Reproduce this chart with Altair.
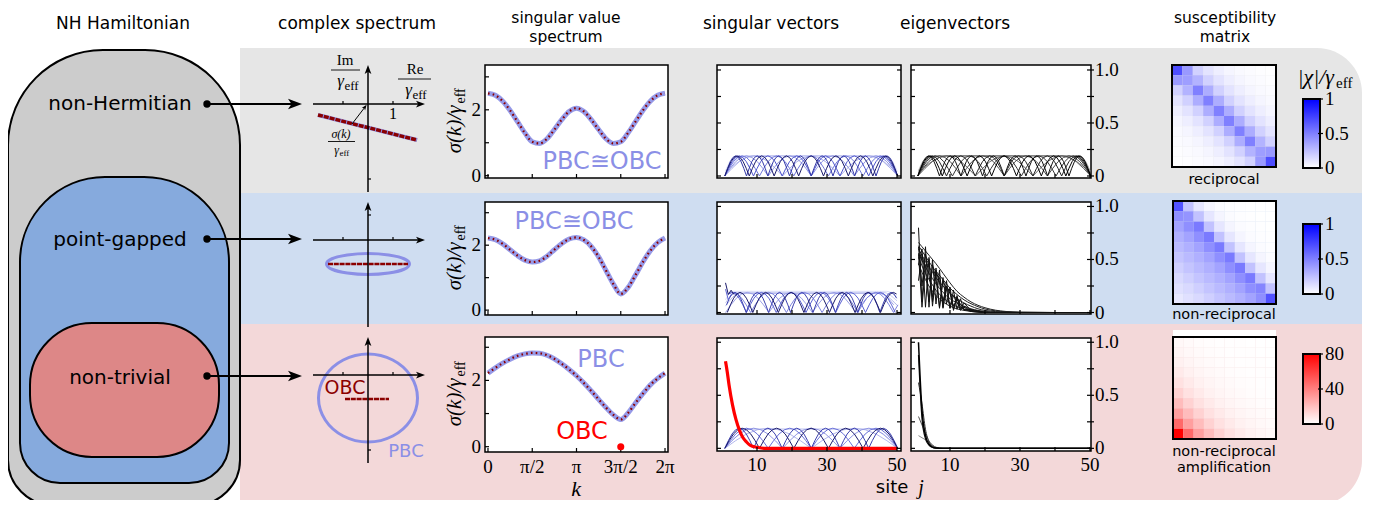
import altair as alt
import pandas as pd

PI = 3.141592653589793
OFF = 8            # page margin of the html page
W, H = 1364, 492   # whole figure canvas

# =============================== DATA ===============================
# singular value spectra sigma(k)/gamma_eff at k = i*pi/12 (i = 0..24)
K_STEPS = 24
SIGMA_NONHERM = [2.50, 2.44, 2.26, 1.98, 1.64, 1.30, 1.03, 0.98, 1.12, 1.40, 1.70, 1.95, 2.05,
                 1.95, 1.70, 1.40, 1.12, 0.98, 1.03, 1.30, 1.64, 1.98, 2.26, 2.44, 2.50]
SIGMA_POINTGAP = [2.22, 2.17, 2.04, 1.86, 1.68, 1.54, 1.48, 1.52, 1.66, 1.86, 2.05, 2.19, 2.24,
                  2.16, 1.96, 1.64, 1.22, 0.80, 0.50, 0.70, 1.08, 1.48, 1.83, 2.08, 2.22]
SIGMA_NONTRIV = [2.22, 2.38, 2.52, 2.64, 2.74, 2.80, 2.83, 2.82, 2.76, 2.65, 2.50, 2.33, 2.14,
                 1.92, 1.68, 1.43, 1.18, 0.96, 0.82, 1.02, 1.32, 1.60, 1.86, 2.06, 2.22]
OBC_ZERO_K = [3 * PI / 2]
OBC_ZERO_SIGMA = [0.0]
K_TICKS = [0, PI / 2, PI, 3 * PI / 2, 2 * PI]
K_TICK_LABELS = ["0", "π/2", "π", "3π/2", "2π"]
SIG_TICKS = [0, 1, 2, 3]
SIG_LABEL_VALUES = [0, 2]
SIG_LABELS = ["0", "2"]

# complex spectra (Re, Im in units of gamma_eff)
CPX_TOP_RE = [-2.0, 1.96]
CPX_TOP_IM = [-0.44, -1.44]
ELL_RE = [1.66, 1.44, 0.83, 0, -0.83, -1.44, -1.66, -1.44, -0.83, 0, 0.83, 1.44]
ELL_IM = [-0.96, -0.75, -0.60, -0.54, -0.60, -0.75, -0.96, -1.17, -1.32, -1.38, -1.32, -1.17]
MID_OBC_RE = [-1.6, 1.6]
MID_OBC_IM = [-0.96, -0.96]
CIRC_RE = [1.98, 1.71, 0.99, 0, -0.99, -1.71, -1.98, -1.71, -0.99, 0, 0.99, 1.71]
CIRC_IM = [-0.92, -0.04, 0.60, 0.84, 0.60, -0.04, -0.92, -1.80, -2.44, -2.68, -2.44, -1.80]
BOT_OBC_RE = [-0.92, 0.84]
BOT_OBC_IM = [-0.96, -0.96]
CPX_RE_TICKS = [-1, 1]
CPX_IM_TICK = [-3, 1, -3]

# singular vectors / eigenvectors |psi_j|
SITE_TICKS = [10, 20, 30, 40, 50]
SITE_LABEL_VALUES = [10, 30, 50]
PSI_TICKS = [0, 0.25, 0.5, 0.75, 1.0]
PSI_LABEL_VALUES = [1.0, 0.5, 0]
PSI_LABELS = ["1.0", "0.5", "0"]
ARCH_AMP = 0.19
ARCH_PROFILE = [0, 0.38, 0.71, 0.92, 1.0, 0.92, 0.71, 0.38, 0]   # one arch of |psi_j|

TOP_PLATEAU_J = [[1, 2.5, 4, 47, 48.5, 50], [1, 3.5, 6, 45, 47.5, 50], [1, 5, 9, 42, 46, 50]]
TOP_PLATEAU_V = [[0.05, 0.15, 0.19, 0.19, 0.15, 0.05], [0.04, 0.15, 0.19, 0.19, 0.15, 0.04],
                 [0.03, 0.14, 0.19, 0.19, 0.14, 0.03]]
TOP_NODES = [
    [0.8, 17.3, 33.7, 50.2],
    [0.8, 13.2, 25.5, 37.8, 50.2],
    [0.8, 10.7, 20.5, 30.4, 40.3, 50.2],
    [0.8, 9.0, 17.2, 25.5, 33.7, 41.9, 50.2],
    [0.8, 7.0, 13.1, 19.3, 25.5, 31.7, 37.9, 44.0, 50.2],
    [0.8, 7.8, 14.9, 21.9, 29.0, 36.1, 43.1, 50.2],
]
MID_PLATEAU_J = [[1, 3, 47, 50], [1, 4, 46, 50], [1, 5, 45, 50]]
MID_PLATEAU_V = [[0.12, 0.2, 0.2, 0.15], [0.09, 0.19, 0.19, 0.11], [0.06, 0.18, 0.18, 0.07]]
MID_NODES = [
    [1.0, 13.4, 25.8, 38.2, 50.6],
    [-2.0, 8.2, 18.4, 28.6, 38.8, 49.0, 59.2],
    [-1.5, 7.0, 15.5, 24.0, 32.5, 41.0, 49.5],
    [0.5, 6.9, 13.3, 19.6, 26.0, 32.4, 38.8, 45.1, 51.5],
    [1.5, 8.8, 16.1, 23.4, 30.7, 38.0, 45.3, 52.6],
]
MID_SPIKE_J = [[1, 1.8, 2.6, 3.4], [1, 1.8, 2.6]]
MID_SPIKE_V = [[0.28, 0.17, 0.21, 0.17], [0.22, 0.12, 0.17]]
BOT_PLATEAU_J = [[1, 3, 5, 46, 48, 50], [1, 4.5, 8, 43, 46.5, 50]]
BOT_PLATEAU_V = [[0.03, 0.13, 0.185, 0.185, 0.13, 0.03], [0.02, 0.12, 0.18, 0.18, 0.12, 0.02]]
BOT_NODES = [
    [0.8, 25.5, 50.2],
    [0.8, 17.3, 33.7, 50.2],
    [0.8, 13.2, 25.5, 37.8, 50.2],
    [0.8, 9.0, 17.2, 25.5, 33.7, 41.9, 50.2],
    [0.8, 10.7, 20.5, 30.4, 40.3, 50.2],
]
RED_J = [1, 1.5, 2, 3, 4, 5, 6, 7, 8, 10, 12, 50]
RED_V = [0.82, 0.72, 0.60, 0.41, 0.27, 0.17, 0.10, 0.06, 0.03, 0.01, 0.0, 0.0]

EV_MID_J = [1, 2, 3, 4, 5, 6, 8, 10, 12, 14, 16, 18, 20, 23, 26, 30, 40, 50]
EV_MID_SMOOTH = [
    [0.66, 0.62, 0.58, 0.54, 0.50, 0.46, 0.37, 0.28, 0.20, 0.145, 0.10, 0.068, 0.045, 0.022, 0.010, 0.003, 0, 0],
    [0.63, 0.58, 0.53, 0.48, 0.43, 0.39, 0.31, 0.23, 0.17, 0.12, 0.083, 0.055, 0.033, 0.016, 0.007, 0.002, 0, 0],
    [0.60, 0.54, 0.48, 0.43, 0.38, 0.33, 0.25, 0.18, 0.13, 0.09, 0.06, 0.035, 0.02, 0.009, 0.004, 0.001, 0, 0],
    [0.56, 0.49, 0.43, 0.37, 0.32, 0.27, 0.19, 0.13, 0.09, 0.06, 0.035, 0.02, 0.011, 0.004, 0.001, 0, 0, 0],
    [0.52, 0.44, 0.37, 0.31, 0.26, 0.21, 0.14, 0.09, 0.055, 0.033, 0.018, 0.009, 0.004, 0.001, 0, 0, 0, 0],
    [0.46, 0.38, 0.31, 0.25, 0.20, 0.16, 0.10, 0.06, 0.035, 0.02, 0.01, 0.004, 0.001, 0, 0, 0, 0, 0],
]
EV_MID_ZZ_J = [1, 2, 3, 4, 5, 6, 7, 8, 9, 10, 11, 12, 13, 14, 16, 20, 50]
EV_MID_ZIGZAG = [
    [0.80, 0.10, 0.62, 0.05, 0.50, 0.08, 0.40, 0.05, 0.30, 0.04, 0.21, 0.03, 0.13, 0.02, 0.03, 0, 0],
    [0.45, 0.60, 0.05, 0.52, 0.10, 0.42, 0.04, 0.33, 0.08, 0.24, 0.02, 0.16, 0.03, 0.09, 0.02, 0, 0],
    [0.30, 0.55, 0.40, 0.10, 0.45, 0.32, 0.05, 0.30, 0.22, 0.04, 0.16, 0.10, 0.02, 0.06, 0.02, 0, 0],
    [0.62, 0.25, 0.55, 0.35, 0.15, 0.40, 0.28, 0.10, 0.25, 0.18, 0.06, 0.12, 0.08, 0.03, 0.01, 0, 0],
    [0.55, 0.05, 0.45, 0.50, 0.06, 0.36, 0.33, 0.04, 0.24, 0.20, 0.03, 0.14, 0.05, 0.05, 0.01, 0, 0],
]
EV_BOT_J = [1, 2, 3, 4, 5, 6, 8, 50]
EV_BOT = [
    [0.12, 0.10, 0.08, 0.06, 0.03, 0.01, 0, 0],
    [0.30, 0.22, 0.14, 0.07, 0.03, 0.01, 0, 0],
    [0.62, 0.42, 0.18, 0.06, 0.02, 0.004, 0, 0],
    [0.88, 0.28, 0.09, 0.03, 0.008, 0.002, 0, 0],
    [1.00, 0.36, 0.12, 0.04, 0.012, 0.003, 0, 0],
]

# susceptibility matrices |chi|/gamma_eff (10 x 10)
CHI_REC_DIAG = [0.70, 0.38, 0.50, 0.50, 0.50, 0.50, 0.50, 0.50, 0.38, 0.70]
CHI_REC_OFF1 = [0.40, 0.30, 0.32, 0.32, 0.32, 0.32, 0.32, 0.30, 0.40]
CHI_REC_FAR = [0.18, 0.11, 0.065, 0.04, 0.025, 0.015, 0.008, 0.004]
CHI_NR_DIAG = [0.68, 0.42, 0.52, 0.52, 0.52, 0.52, 0.52, 0.52, 0.48, 0.68]
CHI_NR_LOWER = [0.44, 0.36, 0.31, 0.27, 0.23, 0.19, 0.15, 0.12, 0.09]
CHI_NR_UPPER = [0.24, 0.10, 0.04, 0.015, 0.006, 0.002, 0, 0, 0]
CHI_AMP_BANDS = [80, 47, 30, 21, 14, 9.5, 6.5, 4.5, 3, 2.2, 1.5, 1.0, 0.7, 0.45, 0.3, 0.2, 0.1, 0.05, 0.02]
CBAR_BLUE_TICKS = [0, 0.5, 1]
CBAR_BLUE_LABELS = ["0", "0.5", "1"]
CBAR_RED_TICKS = [0, 40, 80]
CBAR_RED_LABELS = ["0", "40", "80"]

# texts
TITLE_TEXT = ["NH Hamiltonian", "complex spectrum", "singular vectors", "eigenvectors"]
TITLE2_TEXT = ["singular value", "spectrum", "susceptibility", "matrix"]
VENN_TEXT = ["non-Hermitian", "point-gapped", "non-trivial"]
HEAT_TEXT = ["reciprocal", "non-reciprocal", "non-reciprocal", "amplification"]

# =============================== LAYOUT / STYLE ===============================
SANS = "DejaVu Sans"
SERIF = "Liberation Serif"
BAND_GRAY, BAND_BLUE, BAND_PINK = "#e6e6e6", "#cfddf1", "#f3d8d9"
VENN_GRAY, VENN_BLUE, VENN_RED = "#cccccc", "#86aadd", "#dd8787"
LAV = "#8b8fe6"
DARKRED = "#8b0000"
RED = "#ff0000"
HEAD_R = "M-1,-0.75L1,0L-1,0.75L-0.5,0Z"
HEAD_U = "M-0.75,1L0,-1L0.75,1L0,0.5Z"

TITLE_X = [123, 357, 771, 955]
TITLE_Y = [24, 24, 24, 24]
TITLE2_X = [566, 566, 1225, 1225]
TITLE2_Y = [18, 37, 18, 37]
VENN_BOX = [(8, 240, 50, 505, 95, 45, VENN_GRAY), (20, 229, 177, 483, 85, 40, VENN_BLUE),
            (30, 219, 323, 457, 62, 62, VENN_RED)]
VENN_TX, VENN_TY = 120, [104, 240, 378]
ARROW_Y = [104, 239, 376]
CPX_XDOM, CPX_XPIX = (-2.2, 2.28), (313, 425)
CPX_ROWS = [((65, 192), (-3.52, 1.56)), ((202, 327), (-3.48, 1.52)), ((337, 463), (-3.52, 1.52))]
SVS_XDOM, SVS_XPIX = (-0.106, 6.389), (485, 668)
SVS_ROWS = [(65, 178), (202, 315), (337, 452)]
SVS_YDOMS = [(-0.07, 3.36), (-0.15, 3.33), (-0.16, 3.31)]
SV_XDOM, SV_XPIX = (-1.43, 51.14), (717, 901)
EV_XDOM, EV_XPIX = (-1.14, 50.29), (911, 1091)
PSI_ROWS = [(65, 178), (202, 314), (338, 451)]
PSI_YDOMS = [(-0.019, 1.047), (-0.014, 1.042), (-0.025, 1.04)]
HEAT_BOX = [(1172, 1276, 65, 167), (1173, 1276, 201, 304), (1173, 1276, 337, 439)]
CBAR_X = (1303, 1320)
CBAR_ROWS = [(99, 168), (224, 294), (354, 424)]

BLUES_SV_TOP = ["#e2e4f8", "#d0d3f4", "#bdc1ef", "#a9aeea", "#9096e3", "#7077db", "#4f56ce", "#3439a8", "#1b1b6b"]
GRAYS_EV_TOP = ["#a8a8a8", "#909090", "#787878", "#606060", "#4a4a4a", "#363636", "#242424", "#121212", "#000000"]
BLUES_SV_MID = ["#dcdff7", "#c8cbf2", "#b3b7ed", "#9ca1e7", "#7d83df", "#5c63d3", "#3c41b0", "#1b1b6b"]
BLUES_SV_BOT = ["#dfe1f7", "#cbcef2", "#b2b6ed", "#9196e3", "#6a71d9", "#3c41b0", "#1b1b6b"]


# =============================== HELPERS ===============================
def sc(dom, p0, p1):
    return alt.Scale(domain=[dom[0], dom[1]], range=[p0 - OFF, p1 - OFF], nice=False, zero=False)


CX = sc((OFF, OFF + W), OFF, OFF + W)
CY = sc((OFF, OFF + H), OFF, OFF + H)


def X(f, s):
    return alt.X(f + ":Q", scale=s, axis=None)


def Y(f, s):
    return alt.Y(f + ":Q", scale=s, axis=None)


def rects(rows, xs, ys, **mark):
    df = pd.DataFrame(rows, columns=["x", "x2", "y", "y2"])
    return alt.Chart(df).mark_rect(**mark).encode(x=X("x", xs), x2="x2:Q", y=Y("y", ys), y2="y2:Q")


def rules(rows, xs, ys, color="black", width=1.0):
    df = pd.DataFrame(rows, columns=["x", "x2", "y", "y2"])
    return alt.Chart(df).mark_rule(color=color, strokeWidth=width).encode(
        x=X("x", xs), x2="x2:Q", y=Y("y", ys), y2="y2:Q")


def curve(js, vs, xs, ys, color, width=1.0, interp="linear", dash=None, opacity=1.0):
    df = pd.DataFrame({"x": list(js), "y": list(vs), "i": list(range(len(js)))})
    m = dict(color=color, strokeWidth=width, interpolate=interp, opacity=opacity, strokeCap="butt")
    if dash:
        m["strokeDash"] = dash
    return alt.Chart(df).mark_line(**m).encode(x=X("x", xs), y=Y("y", ys), order="i:Q")


def points(xv, yv, xs, ys, shape="circle", size=40, color="black", angle=0):
    df = pd.DataFrame({"x": xv, "y": yv})
    return alt.Chart(df).mark_point(shape=shape, size=size, filled=True, color=color, opacity=1,
                                    strokeWidth=0, angle=angle).encode(x=X("x", xs), y=Y("y", ys))


def texts(tv, xv, yv, xs, ys, size, font=SANS, color="black", align="center", baseline="middle",
          style="normal", angle=0, dx=0, dy=0):
    df = pd.DataFrame({"t": tv, "x": xv, "y": yv})
    return alt.Chart(df).mark_text(font=font, fontSize=size, color=color, align=align, baseline=baseline,
                                   fontStyle=style, angle=angle, dx=dx, dy=dy).encode(
        x=X("x", xs), y=Y("y", ys), text="t:N")


def upp(dom, p0, p1):
    return (dom[1] - dom[0]) / abs(p1 - p0)


def arch_points(nodes):
    js, vs = [], []
    n = len(ARCH_PROFILE) - 1
    for a, b in zip(nodes[:-1], nodes[1:]):
        for m, p in enumerate(ARCH_PROFILE):
            if js and m == 0:
                continue
            js.append(a + (b - a) * m / n)
            vs.append(ARCH_AMP * p)
    keep = [(j, v) for j, v in zip(js, vs) if 0.7 <= j <= 50.3]
    return [k[0] for k in keep], [k[1] for k in keep]


def gamma_eff(xj, y, size, sub):
    return [texts(["γ"], [xj], [y], CX, CY, size, font=SERIF, align="right", style="italic"),
            texts(["eff"], [xj + 0.5], [y + size * 0.28], CX, CY, sub, font=SERIF, align="left")]


layers = []
add = layers.append

# =============================== BACKGROUND ===============================
add(rects([(240, 1362, 48, 193)], CX, CY, fill=BAND_GRAY, cornerRadiusTopRight=45))
add(rects([(240, 1362, 193, 324)], CX, CY, fill=BAND_BLUE))
add(rects([(240, 1362, 324, 505)], CX, CY, fill=BAND_PINK, cornerRadiusBottomRight=45))

for (x0, x1, y0, y1, rt, rb, col) in VENN_BOX:
    add(rects([(x0, x1, y0, y1)], CX, CY, fill=col, stroke="black", strokeWidth=2,
              cornerRadiusTopLeft=rt, cornerRadiusTopRight=rt,
              cornerRadiusBottomLeft=rb, cornerRadiusBottomRight=rb))

add(rules([(207, 293, y, y) for y in ARROW_Y], CX, CY, width=2))
add(points([207] * 3, ARROW_Y, CX, CY, size=55))
add(points([295] * 3, ARROW_Y, CX, CY, shape=HEAD_R, size=196))

# =============================== COMPLEX SPECTRUM ===============================
for r, ((top, bot), ydom) in enumerate(CPX_ROWS):
    xs = sc(CPX_XDOM, *CPX_XPIX)
    ys = sc(ydom, bot, top)
    ux = upp(CPX_XDOM, *CPX_XPIX)
    uy = upp(ydom, top, bot)
    xa = CPX_XDOM[1] - 4.5 * ux
    ya = ydom[1] - 4.5 * uy
    if r == 0:
        add(curve(CPX_TOP_RE, CPX_TOP_IM, xs, ys, LAV, 4))
        add(curve(CPX_TOP_RE, CPX_TOP_IM, xs, ys, DARKRED, 3.4, dash=[5, 1]))
    elif r == 1:
        add(curve(ELL_RE, ELL_IM, xs, ys, LAV, 3, interp="cardinal-closed"))
        add(curve(MID_OBC_RE, MID_OBC_IM, xs, ys, DARKRED, 2.6, dash=[5, 0.8]))
    else:
        add(curve(CIRC_RE, CIRC_IM, xs, ys, LAV, 3, interp="cardinal-closed"))
        add(curve(BOT_OBC_RE, BOT_OBC_IM, xs, ys, DARKRED, 2.6, dash=[5, 0.8]))
    add(rules([(CPX_XDOM[0], xa, 0, 0), (0, 0, ydom[0], ya)], xs, ys, width=1.5))
    add(rules([(t, t, 0, 3 * uy) for t in CPX_RE_TICKS] +
              [(0, 3 * ux, CPX_IM_TICK[r], CPX_IM_TICK[r])], xs, ys, width=1.2))
    add(points([xa], [0], xs, ys, shape=HEAD_R, size=81))
    add(points([0], [ya], xs, ys, shape=HEAD_U, size=81))
    if r == 0:
        add(texts(["1"], [1], [0], xs, ys, 16, font=SERIF, dy=10))

# labels of the complex plane
add(texts(["Im"], [345], [60], CX, CY, 15, font=SERIF))
add(texts(["Re"], [415], [69], CX, CY, 15, font=SERIF))
add(rules([(331, 360, 70, 70), (398, 431, 79, 79), (328, 355, 141.5, 141.5)], CX, CY, width=0.9))
for L in gamma_eff(344, 81, 17, 13) + gamma_eff(412, 90, 17, 13) + gamma_eff(339, 150, 12, 9):
    add(L)
add(texts(["σ(k)"], [341], [134], CX, CY, 12, font=SERIF, style="italic"))
add(rules([(352, 365, 124, 107)], CX, CY, width=1))
add(points([365], [107], CX, CY, shape=HEAD_R, size=30, angle=306))
add(texts(["OBC"], [345], [388], CX, CY, 19, color=DARKRED))
add(texts(["PBC"], [406], [452], CX, CY, 18, color=LAV))

# =============================== SINGULAR VALUE SPECTRUM ===============================
K = [i * 2 * PI / K_STEPS for i in range(K_STEPS + 1)]
SIGMAS = [SIGMA_NONHERM, SIGMA_POINTGAP, SIGMA_NONTRIV]
for r, (top, bot) in enumerate(SVS_ROWS):
    ydom = SVS_YDOMS[r]
    xs = sc(SVS_XDOM, *SVS_XPIX)
    ys = sc(ydom, bot, top)
    ux = upp(SVS_XDOM, *SVS_XPIX)
    uy = upp(ydom, top, bot)
    add(rects([(SVS_XDOM[0], SVS_XDOM[1], ydom[0], ydom[1])], xs, ys, fill="white", stroke="black", strokeWidth=1.5))
    add(rules([(SVS_XDOM[0], SVS_XDOM[0] + 4 * ux, t, t) for t in SIG_TICKS] +
              [(k, k, ydom[0], ydom[0] + 4 * uy) for k in K_TICKS], xs, ys, width=1.2))
    add(curve(K, SIGMAS[r], xs, ys, LAV, 5, interp="monotone", opacity=0.9))
    add(curve(K, SIGMAS[r], xs, ys, DARKRED, 2.2, interp="monotone", dash=[1.6, 3.2]))
    add(texts(SIG_LABELS, [SVS_XDOM[0]] * 2, SIG_LABEL_VALUES, xs, ys, 19, font=SERIF, align="right", dx=-4))
    if r == 2:
        add(points(OBC_ZERO_K, OBC_ZERO_SIGMA, xs, ys, size=50, color=RED))
        add(texts(K_TICK_LABELS, K_TICKS, [ydom[0]] * 5, xs, ys, 19, font=SERIF, dy=15))
    yc = (top + bot) / 2
    add(texts(["σ(k)/γ"], [455], [yc - 16], CX, CY, 21, font=SERIF, style="italic", align="right", angle=270))
    add(texts(["eff"], [461], [yc - 18], CX, CY, 14, font=SERIF, align="left", angle=270))

add(texts(["PBC≅OBC"], [602], [162], CX, CY, 24, color=LAV))
add(texts(["PBC≅OBC"], [574], [222], CX, CY, 24, color=LAV))
add(texts(["PBC"], [601], [360], CX, CY, 24, color=LAV))
add(texts(["OBC"], [582], [432], CX, CY, 24, color=RED))
add(texts(["k"], [576], [489], CX, CY, 22, font=SERIF, style="italic"))


# =============================== SINGULAR VECTORS / EIGENVECTORS ===============================
def psi_panel(col, r, drawers):
    xdom, xpix = (SV_XDOM, SV_XPIX) if col == 0 else (EV_XDOM, EV_XPIX)
    top, bot = PSI_ROWS[r]
    ydom = PSI_YDOMS[r]
    xs = sc(xdom, *xpix)
    ys = sc(ydom, bot, top)
    ux = upp(xdom, *xpix)
    uy = upp(ydom, top, bot)
    add(rects([(xdom[0], xdom[1], ydom[0], ydom[1])], xs, ys, fill="white", stroke="black", strokeWidth=1.5))
    for js, vs, color, width, interp in drawers:
        add(curve(js, vs, xs, ys, color, width, interp=interp))
    right_out = 3 * ux if col == 1 else 0
    add(rules([(xdom[0], xdom[0] + 4 * ux, t, t) for t in PSI_TICKS] +
              [(xdom[1] - 4 * ux, xdom[1] + right_out, t, t) for t in PSI_TICKS] +
              [(s, s, ydom[0], ydom[0] + 4 * uy) for s in SITE_TICKS], xs, ys, width=1.2))
    if col == 1:
        add(texts(PSI_LABELS, [xdom[1]] * 3, PSI_LABEL_VALUES, xs, ys, 19, font=SERIF, align="left", dx=4))
    if r == 2:
        add(texts([str(s) for s in SITE_LABEL_VALUES], SITE_LABEL_VALUES, [ydom[0]] * 3, xs, ys, 19,
                  font=SERIF, dy=14))


def vec_set(plat_j, plat_v, nodes, colors):
    out = []
    c = 0
    for js, vs in zip(plat_j, plat_v):
        out.append((js, vs, colors[c], 1.0, "monotone"))
        c += 1
    for nd in nodes:
        js, vs = arch_points(nd)
        out.append((js, vs, colors[c], 1.0, "linear"))
        c += 1
    return out


psi_panel(0, 0, vec_set(TOP_PLATEAU_J, TOP_PLATEAU_V, TOP_NODES, BLUES_SV_TOP))
psi_panel(1, 0, vec_set(TOP_PLATEAU_J, TOP_PLATEAU_V, TOP_NODES, GRAYS_EV_TOP))
mid = vec_set(MID_PLATEAU_J, MID_PLATEAU_V, MID_NODES, BLUES_SV_MID)
mid += [(MID_SPIKE_J[1], MID_SPIKE_V[1], "#5c63d3", 1.0, "linear"),
        (MID_SPIKE_J[0], MID_SPIKE_V[0], "#1b1b6b", 1.0, "linear")]
psi_panel(0, 1, mid)
ev_mid = [(EV_MID_J, v, "#222222", 1.0, "monotone") for v in EV_MID_SMOOTH]
ev_mid += [(EV_MID_ZZ_J, v, "#111111", 1.0, "linear") for v in EV_MID_ZIGZAG]
psi_panel(1, 1, ev_mid)
bot = vec_set(BOT_PLATEAU_J, BOT_PLATEAU_V, BOT_NODES, BLUES_SV_BOT)
bot += [(RED_J, RED_V, RED, 3.2, "monotone")]
psi_panel(0, 2, bot)
ev_bot = [(EV_BOT_J, v, c, w, "monotone") for v, c, w in
          zip(EV_BOT, ["#888888", "#555555", "#333333", "#111111", "#000000"], [1, 1, 1, 1.2, 1.5])]
psi_panel(1, 2, ev_bot)

add(texts(["site"], [892], [488], CX, CY, 18))
add(texts(["j"], [921], [488], CX, CY, 20, font=SERIF, style="italic"))


# =============================== SUSCEPTIBILITY MATRICES ===============================
def chi_rec(i, j):
    d = abs(i - j)
    if d == 0:
        return CHI_REC_DIAG[i]
    if d == 1:
        return CHI_REC_OFF1[min(i, j)]
    return CHI_REC_FAR[d - 2]


def chi_nr(i, j):
    if i == j:
        return CHI_NR_DIAG[i]
    if i > j:
        return CHI_NR_LOWER[i - j - 1]
    return CHI_NR_UPPER[j - i - 1]


def chi_amp(i, j):
    return CHI_AMP_BANDS[(9 - i) + j]


add(rects([(1173, 1276, 330, 337)], CX, CY, fill="white"))
HEATS = [(chi_rec, 1, "#0000ff"), (chi_nr, 1, "#0000ff"), (chi_amp, 80, "#ff0000")]
for r, (fn, hi, col) in enumerate(HEATS):
    x0, x1, y0, y1 = HEAT_BOX[r]
    xs = sc((0, 10), x0, x1)
    ys = sc((0, 10), y0, y1)
    rows = [{"c": c, "c2": c + 1, "r": i, "r2": i + 1, "v": fn(i, c)} for i in range(10) for c in range(10)]
    df = pd.DataFrame(rows)
    add(alt.Chart(df).mark_rect(strokeWidth=0).encode(
        x=X("c", xs), x2="c2:Q", y=Y("r", ys), y2="r2:Q",
        color=alt.Color("v:Q", scale=alt.Scale(domain=[0, hi], range=["#ffffff", col], interpolate="rgb"),
                        legend=None)))
    add(rects([(0, 10, 0, 10)], xs, ys, fillOpacity=0, stroke="black", strokeWidth=2))
    # colour bar
    ct, cb = CBAR_ROWS[r]
    grad = {"gradient": "linear", "x1": 0, "y1": 1, "x2": 0, "y2": 0,
            "stops": [{"offset": 0, "color": "#ffffff"}, {"offset": 1, "color": col}]}
    add(rects([(CBAR_X[0], CBAR_X[1], ct, cb)], CX, CY, fill=grad, stroke="black", strokeWidth=2))
    cys = sc((0, hi), cb, ct)
    ticks = CBAR_BLUE_TICKS if hi == 1 else CBAR_RED_TICKS
    labels = CBAR_BLUE_LABELS if hi == 1 else CBAR_RED_LABELS
    tdf = pd.DataFrame({"x": [CBAR_X[1] - 2] * 3, "x2": [CBAR_X[1] + 3] * 3, "y": ticks})
    add(alt.Chart(tdf).mark_rule(color="black", strokeWidth=1.2).encode(
        x=X("x", CX), x2="x2:Q", y=Y("y", cys)))
    add(texts(labels, [CBAR_X[1] + 5] * 3, ticks, CX, cys, 19, font=SERIF, align="left"))

add(texts(["|χ|/γ"], [1334], [77], CX, CY, 22, font=SERIF, style="italic", align="right"))
add(texts(["eff"], [1336], [83], CX, CY, 15, font=SERIF, align="left"))
add(texts(HEAT_TEXT, [1224] * 4, [180, 315, 452, 468], CX, CY, 14.5))

# =============================== TITLES / LABELS ===============================
add(texts(TITLE_TEXT, TITLE_X, TITLE_Y, CX, CY, 17))
add(texts(TITLE2_TEXT, TITLE2_X, TITLE2_Y, CX, CY, 15.5))
add(texts(VENN_TEXT, [VENN_TX] * 3, VENN_TY, CX, CY, 20))

chart = alt.layer(*layers).resolve_scale(
    x="independent", y="independent", color="independent"
).properties(width=W, height=H, padding=0, autosize="none").configure_view(strokeWidth=0)

chart.save("out.html", embed_options={"renderer": "svg", "actions": False})
